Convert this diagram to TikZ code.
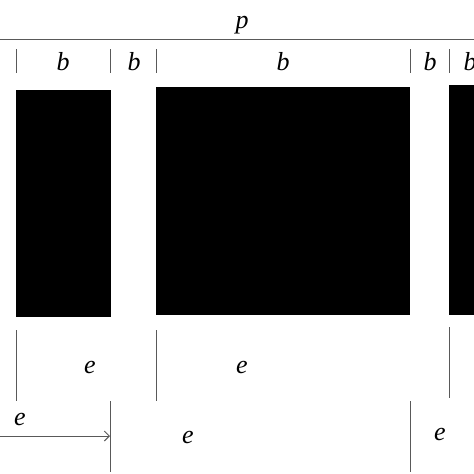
\documentclass[tikz,border=0pt]{standalone}
\usepackage{fontspec}
\setmainfont{Liberation Serif}
\usetikzlibrary{arrows.meta}
\begin{document}
\begin{tikzpicture}[x=1pt,y=-1pt,
  dim/.style={draw=black!65,line width=1pt},
  bar/.style={fill=black,draw=none},
  lab/.style={font=\fontsize{26}{26}\selectfont\itshape,inner sep=0pt,anchor=base}]
\useasboundingbox (0,0) rectangle (474,474);
% top line
\coordinate (tl) at (0,39);
\coordinate (tr) at (474,39);
\draw[dim] (tl) -- (tr);
\node[lab] (p) at (242,28) {p};
% ticks
\foreach \n/\x in {t1/16,t2/110,t3/156,t4/410,t5/449}{
  \coordinate (\n a) at (\x,49);
  \coordinate (\n b) at (\x,73);
  \draw[dim] (\n a) -- (\n b);
}
\node[lab] (b1) at (63,70) {b};
\node[lab] (b2) at (134,70) {b};
\node[lab] (b3) at (283,70) {b};
\node[lab] (b4) at (430,70) {b};
\node[lab] (b5) at (470,70) {b};
% bars
\fill[bar] (16,90) rectangle (111,317);
\fill[bar] (156,87) rectangle (410,315);
\fill[bar] (449,85) rectangle (474,315);
% lower lines, upper row
\coordinate (u1a) at (16,330); \coordinate (u1b) at (16,401);
\coordinate (u2a) at (156,330); \coordinate (u2b) at (156,401);
\coordinate (u3a) at (449,327); \coordinate (u3b) at (449,398);
\draw[dim] (u1a) -- (u1b);
\draw[dim] (u2a) -- (u2b);
\draw[dim] (u3a) -- (u3b);
\node[lab] (e1) at (90,373) {e};
\node[lab] (e2) at (242,373) {e};
% lower row
\coordinate (l1a) at (110,401); \coordinate (l1b) at (110,472);
\coordinate (l2a) at (410,401); \coordinate (l2b) at (410,472);
\draw[dim] (l1a) -- (l1b);
\draw[dim] (l2a) -- (l2b);
\node[lab] (e3) at (20,425) {e};
\node[lab] (e4) at (188,443) {e};
\node[lab] (e5) at (440,440) {e};
\coordinate (as) at (0,436);
\coordinate (ae) at (110,436);
\draw[dim,-{Straight Barb[length=5pt,width=10pt]}] (as) -- (ae);
\end{tikzpicture}
\end{document}
